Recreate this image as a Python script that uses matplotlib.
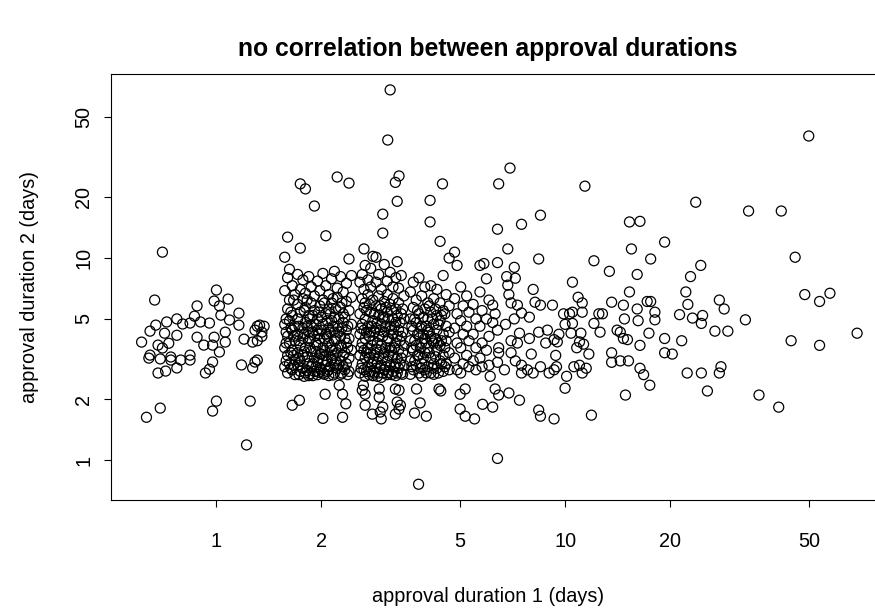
import matplotlib

matplotlib.use("Agg")
import matplotlib.pyplot as plt

# Durations (days). Scattered points as (x, y) pairs,
# the dense clusters as {x: [y, ...]} columns.
one_day_points = [
    (0.61, 3.84), (0.63, 1.63), (0.645, 4.35), (0.645, 3.31), (0.665, 6.2), (0.67, 4.66),
    (0.69, 1.81), (0.70, 10.7), (0.68, 3.71), (0.70, 3.59), (0.71, 4.25), (0.72, 4.83),
    (0.73, 3.79), (0.74, 3.24), (0.64, 3.2), (0.69, 3.17), (0.74, 3.13), (0.77, 5.0),
    (0.77, 4.15), (0.68, 2.70), (0.715, 2.76), (0.77, 2.86), (0.79, 3.13), (0.80, 4.72),
    (0.84, 4.77), (0.84, 3.31), (0.84, 3.13), (0.865, 5.16), (0.88, 5.8), (0.88, 4.06),
    (0.90, 4.83), (0.92, 3.71), (0.93, 2.70), (0.955, 2.82), (0.975, 3.06), (0.955, 4.77),
    (0.975, 3.71), (0.985, 6.13), (0.985, 4.06), (1.0, 6.95), (1.02, 5.8), (1.02, 3.43),
    (1.03, 5.22), (1.06, 4.30), (1.06, 3.84), (1.08, 6.27), (1.09, 4.94), (1.16, 5.34),
    (1.16, 4.66), (1.18, 2.96), (1.20, 3.97), (1.27, 3.84), (1.27, 2.86), (1.29, 4.4),
    (1.31, 4.6), (1.33, 4.66), (1.35, 4.3), (1.37, 4.6), (1.31, 3.9), (1.35, 4.1),
    (1.29, 3.06), (1.31, 3.13), (0.975, 1.75), (1.0, 1.96), (1.25, 1.96), (1.22, 1.19),
]

two_day_columns = {
    1.57: [10.1, 6.9, 4.7, 3.6, 2.9],
    1.585: [5.0, 4.3, 3.8, 3.1],
    1.60: [12.7, 8.0, 5.6, 4.1, 3.3, 2.7],
    1.62: [8.8, 6.2, 4.9, 3.8, 3.0],
    1.635: [5.4, 4.5, 3.4, 2.85],
    1.65: [7.3, 5.2, 4.4, 3.5, 2.8, 1.87],
    1.665: [6.2, 4.1, 3.3, 2.95],
    1.68: [6.6, 4.6, 3.9, 3.15, 2.65],
    1.71: [8.3, 5.9, 5.0, 4.2, 3.4, 2.95],
    1.725: [4.6, 3.9, 3.2, 2.65],
    1.74: [23.3, 11.2, 7.0, 5.4, 3.7, 3.1, 2.75],
    1.77: [7.8, 6.3, 4.5, 4.0, 3.3, 2.85],
    1.785: [5.5, 4.2, 3.45, 2.6],
    1.80: [22.0, 6.7, 5.7, 4.8, 3.6, 2.7],
    1.82: [6.2, 4.6, 3.25, 2.78],
    1.84: [8.1, 5.2, 4.3, 3.9, 3.0, 2.62],
    1.855: [5.0, 4.0, 3.6, 2.68],
    1.87: [7.2, 6.0, 4.6, 3.45, 2.9],
    1.89: [5.2, 4.3, 3.0, 2.62],
    1.91: [18.1, 6.5, 5.5, 4.1, 3.2, 2.75],
    1.93: [4.7, 3.8, 3.45, 2.9],
    1.95: [7.7, 5.0, 4.4, 3.7, 3.05, 2.65],
    1.965: [5.4, 4.2, 3.2, 2.72],
    1.98: [6.9, 5.8, 4.0, 3.35, 2.85],
    2.00: [5.1, 4.4, 3.35, 2.8],
    2.02: [8.4, 6.2, 4.7, 3.6, 3.1, 2.7],
    2.04: [6.0, 4.0, 3.5, 2.66],
    2.06: [12.9, 7.3, 5.3, 4.2, 3.3, 2.95],
    2.08: [4.9, 4.1, 3.1, 2.75],
    2.10: [6.6, 5.6, 4.5, 3.8, 2.8, 2.62],
    2.12: [5.3, 4.3, 3.6, 2.9],
    2.14: [7.9, 6.0, 4.9, 3.5, 3.15],
    2.16: [6.3, 4.6, 3.3, 2.64],
    2.18: [8.6, 5.1, 4.3, 3.9, 3.0, 2.7],
    2.20: [5.6, 4.0, 3.55, 3.1],
    2.22: [25.2, 7.1, 6.4, 4.6, 3.4, 2.85],
    2.245: [5.0, 4.3, 2.95],
    2.27: [8.1, 5.7, 4.1, 3.7, 3.1, 2.66],
    2.29: [6.0, 4.5, 3.6, 2.7],
    2.31: [6.8, 5.3, 4.8, 3.3, 2.9],
    2.335: [5.1, 4.0, 3.4, 2.8],
    2.36: [7.5, 6.1, 4.4, 3.8, 3.0],
    2.38: [4.6, 3.6, 2.65],
    2.40: [23.5, 9.9, 5.5, 4.0, 3.2, 2.75],
    2.44: [8.2, 6.4, 4.7, 3.5],
}

three_day_columns = {
    2.58: [7.6, 5.3, 4.2, 3.3, 2.7],
    2.60: [4.5, 3.6, 2.85],
    2.62: [8.3, 6.3, 4.7, 3.8, 3.0],
    2.65: [11.1, 7.0, 5.7, 4.4, 3.5, 2.8],
    2.67: [9.2, 6.0, 5.0, 4.0, 3.2, 2.6],
    2.695: [5.5, 4.3, 3.4, 2.75],
    2.72: [7.8, 6.6, 4.6, 3.6, 2.9],
    2.745: [5.9, 4.1, 3.2, 2.65],
    2.77: [8.9, 7.2, 5.4, 4.3, 3.4, 2.75],
    2.79: [4.6, 3.7, 3.0],
    2.81: [10.2, 6.2, 4.9, 3.9, 3.1, 2.62],
    2.84: [5.3, 4.3, 3.3, 2.7],
    2.87: [10.1, 7.6, 5.8, 4.5, 3.55, 2.85],
    2.895: [4.8, 3.8, 3.05, 2.6],
    2.92: [8.3, 6.5, 5.2, 4.1, 3.25, 2.7],
    2.945: [5.8, 4.4, 3.5, 2.85],
    2.97: [7.0, 5.6, 4.7, 3.7, 2.95, 2.57],
    3.00: [16.5, 13.3, 5.1, 4.1, 3.2, 2.7],
    3.03: [9.3, 6.1, 5.0, 4.3, 3.4, 2.8],
    3.06: [5.7, 4.6, 3.6, 2.9],
    3.09: [7.7, 6.6, 5.4, 3.9, 3.1, 2.65],
    3.10: [38.4],
    3.12: [5.0, 4.0, 3.3, 2.72],
    3.15: [68.0, 8.5, 5.9, 4.6, 3.6, 2.9],
    3.18: [5.5, 4.4, 3.5, 2.65],
    3.21: [7.2, 6.3, 5.0, 4.2, 3.3, 2.75],
    3.24: [4.6, 3.6, 2.9],
    3.26: [23.7],
    3.27: [8.0, 5.6, 4.8, 3.8, 3.0, 2.62],
    3.30: [19.1, 9.6, 5.2, 4.1, 3.2, 2.7],
    3.33: [7.1, 6.0, 4.4, 3.5, 2.85],
    3.34: [25.5],
    3.36: [4.8, 3.9, 3.0],
    3.39: [8.2, 5.3, 4.1, 3.2, 2.7],
    3.42: [5.6, 4.3, 3.4, 2.66],
    3.45: [6.5, 5.0, 3.7, 2.95],
}

four_to_six_day_columns = {
    3.60: [6.8, 5.0, 3.9, 3.1, 2.66],
    3.635: [4.6, 3.6, 2.9],
    3.67: [7.6, 5.7, 4.4, 3.5, 2.8],
    3.705: [5.0, 3.9, 3.1],
    3.74: [6.2, 4.8, 3.7, 2.95],
    3.775: [5.5, 4.2, 3.3],
    3.81: [8.0, 5.3, 4.2, 3.3, 2.7],
    3.845: [4.5, 3.6, 2.85],
    3.88: [6.5, 4.6, 3.8, 3.0, 2.6],
    3.92: [5.1, 4.2, 3.2],
    3.96: [7.2, 5.6, 4.0, 3.4, 2.8],
    4.00: [4.6, 3.8, 2.7],
    4.04: [6.0, 5.0, 4.4, 3.6, 2.9],
    4.08: [5.8, 4.3, 3.4],
    4.10: [19.3, 15.1],
    4.12: [7.3, 5.4, 4.1, 3.2, 2.7],
    4.16: [5.0, 3.9, 2.85],
    4.20: [6.3, 4.7, 3.8, 3.0, 2.66],
    4.25: [5.6, 4.0, 3.25],
    4.29: [7.0, 5.2, 4.4, 3.5, 2.85],
    4.33: [4.7, 3.8, 2.7],
    4.38: [12.1, 6.0, 4.9, 3.7, 3.1],
    4.42: [5.2, 3.9, 3.0],
    4.45: [23.3],
    4.47: [8.2, 5.5, 4.2, 3.3, 2.75],
    4.52: [5.3, 3.6, 2.9],
    4.56: [6.6, 4.6, 3.9, 3.0],
    4.65: [10.0, 5.8, 4.3, 3.4, 2.8],
    4.82: [10.7, 6.3, 4.5, 3.2],
    4.90: [9.2, 5.3, 3.8, 2.8],
    5.02: [7.2, 4.9, 3.6, 2.7],
    5.10: [5.8, 4.2, 3.0],
    5.22: [6.5, 4.6, 3.3],
    5.30: [5.4, 3.9, 2.9],
    5.45: [5.9, 4.2, 3.1],
    5.55: [5.0, 3.6, 2.8],
    5.70: [9.2, 6.8, 4.6, 3.2],
    5.78: [5.5, 3.8, 2.9],
    5.85: [9.4],
    5.95: [7.9, 5.0, 3.5],
    6.05: [6.2, 4.1, 2.95],
}

short_low_points = [
    (3.8, 0.76), (2.02, 1.61), (2.3, 1.63), (1.73, 1.98), (2.05, 2.12),
    (2.3, 2.12), (2.35, 1.9), (2.25, 2.35), (2.67, 1.87), (2.8, 1.69), (2.95, 1.73),
    (2.97, 1.6), (3.0, 1.83), (2.93, 2.05), (2.93, 2.25), (2.67, 2.12), (2.64, 2.35),
    (2.62, 2.22), (3.26, 2.25), (3.34, 2.22), (3.3, 1.94), (3.37, 1.87), (3.34, 1.79),
    (3.26, 1.69), (3.7, 1.71), (3.84, 1.92), (3.75, 2.25), (4.0, 1.65), (4.35, 2.25),
    (4.4, 2.2), (5.0, 2.12), (5.17, 2.25), (5.0, 1.79), (5.17, 1.65), (5.5, 1.6),
    (5.8, 1.89), (6.1, 2.6),
]

long_points = [
    (8.5, 16.3), (6.95, 27.9), (6.45, 23.3), (11.4, 22.7), (50, 40.2), (23.7, 18.9),
    (33.6, 17.1), (41.7, 17.1), (6.4, 13.9), (7.5, 14.7), (15.3, 15.1), (16.4, 15.2),
    (19.3, 12.0), (6.85, 11.1), (8.4, 9.9), (6.4, 9.5), (7.15, 9.0), (15.5, 11.1),
    (12.1, 9.7), (17.6, 9.9), (13.4, 8.6), (16.1, 8.3), (6.8, 8.1), (7.2, 7.95),
    (6.85, 7.35), (10.5, 7.6), (8.1, 7.0), (6.9, 6.6), (10.9, 6.4), (15.3, 6.8),
    (8.2, 6.05), (7.0, 6.0), (7.3, 5.85), (11.2, 6.0), (13.6, 6.05), (17.2, 6.1),
    (17.6, 6.1), (9.2, 5.85), (8.5, 5.85), (14.7, 5.85), (16.1, 5.6), (6.2, 5.85),
    (7.5, 5.35), (10.5, 5.4), (10.3, 5.3), (9.9, 5.3), (12.5, 5.3), (12.8, 5.3),
    (18.1, 5.4), (21.3, 5.25), (7.9, 5.1), (6.3, 5.3), (11.2, 5.4), (14.8, 5.0),
    (16.2, 4.9), (18.1, 4.95), (7.15, 5.0), (10.0, 4.7), (10.5, 4.75), (12.1, 4.75),
    (6.75, 4.7), (6.2, 4.8), (6.4, 4.4), (8.4, 4.3), (8.9, 4.4), (7.4, 4.25),
    (7.9, 4.0), (9.6, 4.2), (10.4, 4.25), (11.1, 4.25), (12.6, 4.3), (14.1, 4.4),
    (14.4, 4.3), (17.4, 4.25), (19.3, 4.0), (7.0, 3.9), (7.3, 3.8), (8.8, 3.8),
    (9.3, 3.95), (9.5, 3.85), (11.0, 3.85), (11.3, 3.75), (14.7, 4.0), (15.1, 3.95),
    (16.4, 3.7), (6.45, 3.6), (10.8, 3.6), (21.6, 3.9), (19.3, 3.4), (20.3, 3.35),
    (13.6, 3.4), (11.7, 3.35), (9.4, 3.3), (8.0, 3.35), (7.0, 3.4), (6.45, 3.4),
    (6.4, 3.05), (6.7, 2.8), (7.2, 3.1), (7.5, 2.95), (7.8, 2.8), (7.5, 2.7),
    (8.1, 2.7), (8.5, 2.9), (9.0, 2.7), (9.3, 2.8), (9.45, 2.9), (10.6, 2.9),
    (11.2, 2.7), (11.5, 2.85), (11.0, 2.95), (13.6, 3.05), (14.4, 3.1), (15.2, 3.1),
    (16.4, 2.85), (16.8, 2.65), (17.5, 2.35), (10.1, 2.6), (10.0, 2.27), (14.9, 2.1),
    (6.3, 2.25), (6.45, 2.1), (6.9, 2.15), (7.4, 1.98), (6.2, 1.83), (8.4, 1.77),
    (8.5, 1.65), (9.3, 1.6), (11.9, 1.67), (6.4, 1.02),
    (45.7, 10.1), (24.5, 9.2), (22.9, 8.1), (22.2, 6.8), (22.5, 5.9), (27.7, 6.2),
    (28.6, 5.6), (48.7, 6.6), (53.7, 6.1), (57.5, 6.7), (32.9, 4.95), (23.2, 5.05),
    (24.8, 5.2), (24.6, 4.75), (26.9, 4.35), (29.3, 4.35), (44.5, 3.9), (53.7, 3.7),
    (68.8, 4.25), (22.4, 2.7), (24.6, 2.7), (27.7, 2.7), (28.0, 2.9), (25.6, 2.2),
    (36.0, 2.1), (41.0, 1.83),
]

tick_values = [1, 2, 5, 10, 20, 50]

duration_1 = []
duration_2 = []
for x, y in one_day_points + short_low_points + long_points:
    duration_1.append(x)
    duration_2.append(y)
for columns in (two_day_columns, three_day_columns, four_to_six_day_columns):
    for x, ys in columns.items():
        for y in ys:
            duration_1.append(x)
            duration_2.append(y)

plt.rcParams["font.family"] = ["Liberation Sans", "DejaVu Sans"]

fig = plt.figure(figsize=(8.75, 6.08), dpi=100)
# the plotting region runs a little past the right edge of the picture
ax = fig.add_axes([0.1274, 0.1776, 0.8846, 0.7007])

ax.scatter(duration_1, duration_2, s=52, facecolors="none", edgecolors="black", linewidths=0.9)

ax.set_xscale("log")
ax.set_yscale("log")
ax.set_xlim(0.50, 83)
ax.set_ylim(0.635, 81.5)
ax.set_xticks(tick_values)
ax.set_xticklabels([str(v) for v in tick_values])
ax.set_yticks(tick_values)
ax.set_yticklabels([str(v) for v in tick_values], rotation=90, va="center")
ax.minorticks_off()

for spine in ax.spines.values():
    spine.set_linewidth(0.8)
ax.tick_params(axis="both", direction="out", length=5.2, width=0.8, labelsize=14.3)
ax.tick_params(axis="x", pad=18)
ax.tick_params(axis="y", pad=8)

# title and x label sit over the visible part of the frame
text_center = 0.4864
ax.set_xlabel("approval duration 1 (days)", fontsize=14.3, labelpad=26)
ax.xaxis.label.set_x(text_center)
ax.set_ylabel("approval duration 2 (days)", fontsize=14.3, labelpad=25)
ax.set_title("no correlation between approval durations", fontsize=17.8,
             fontweight="bold", pad=13, x=text_center)

fig.savefig("out.png", dpi=100)
plt.close(fig)
